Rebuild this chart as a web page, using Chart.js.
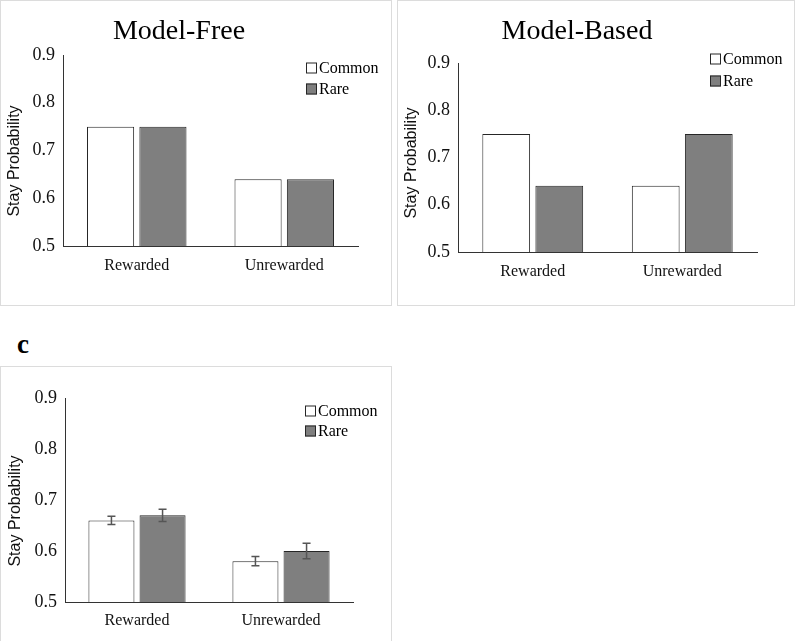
<!DOCTYPE html>
<html>
<head>
<meta charset="utf-8">
<script src="https://cdn.jsdelivr.net/npm/chart.js@4/dist/chart.umd.min.js"></script>
<style>
  body { margin: 0; background: #fff; width: 800px; height: 641px; position: relative; overflow: hidden; }
  .panel { position: absolute; box-sizing: border-box; border: 1.5px solid #dcdcdc; }
  canvas { position: absolute; }
  .tag { position: absolute; left: 17px; top: 329px; font: bold 27px "Liberation Serif", serif; color: #000; }
</style>
</head>
<body>
<div class="panel" style="left:0;top:0;width:392px;height:306px"></div>
<div class="panel" style="left:397px;top:0;width:398px;height:306px"></div>
<div class="panel" style="left:0;top:366px;width:392px;height:290px"></div>
<div class="tag">c</div>
<canvas id="chart-mf" style="left:0;top:0"></canvas>
<canvas id="chart-mb" style="left:397px;top:0"></canvas>
<canvas id="chart-obs" style="left:0;top:366px"></canvas>
<script>
// data
var categories = ["Rewarded", "Unrewarded"];
var seriesNames = ["Common", "Rare"];
var yTicks = [0.5, 0.6, 0.7, 0.8, 0.9];
var yLabel = "Stay Probability";

var mfCommon = [0.75, 0.64];
var mfRare = [0.75, 0.64];

var mbCommon = [0.75, 0.64];
var mbRare = [0.64, 0.75];

var obsCommon = [0.66, 0.58];
var obsRare = [0.67, 0.60];
var obsCommonErr = [0.008, 0.009];
var obsRareErr = [0.012, 0.015];

var fills = ["#ffffff", "#7f7f7f"];
var edge = "#262626";

// legend drawn as a small stacked box list at a given spot
var boxLegend = {
    id: "boxLegend",
    afterDraw: function (chart, args, opts) {
        var ctx = chart.ctx;
        ctx.save();
        ctx.font = "16px 'Liberation Serif'";
        ctx.textBaseline = "middle";
        chart.data.datasets.forEach(function (ds, i) {
            var y = opts.y + i * opts.gap;
            ctx.fillStyle = ds.backgroundColor;
            ctx.fillRect(opts.x, y - 5.5, 11, 11);
            ctx.strokeStyle = edge;
            ctx.lineWidth = 1;
            ctx.strokeRect(opts.x + 0.5, y - 5, 10, 10);
            ctx.fillStyle = "#000";
            ctx.fillText(ds.label, opts.x + 13, y + 1);
        });
        // rotated y axis label, sits a bit below the plot middle like the original
        ctx.translate(opts.yTitleX, opts.yTitleY);
        ctx.rotate(-Math.PI / 2);
        ctx.font = "16px 'Liberation Sans'";
        ctx.textAlign = "center";
        ctx.textBaseline = "middle";
        ctx.fillStyle = "#111";
        ctx.fillText(yLabel, 0, 0);
        ctx.restore();
    }
};

// error bars read from dataset.errors
var errorBars = {
    id: "errorBars",
    afterDatasetsDraw: function (chart) {
        var ctx = chart.ctx;
        var yScale = chart.scales.y;
        ctx.save();
        ctx.strokeStyle = "#555";
        ctx.lineWidth = 1.5;
        chart.data.datasets.forEach(function (ds, i) {
            if (!ds.errors) return;
            chart.getDatasetMeta(i).data.forEach(function (bar, j) {
                var v = ds.data[j], e = ds.errors[j];
                var top = yScale.getPixelForValue(v + e);
                var bot = yScale.getPixelForValue(v - e);
                ctx.beginPath();
                ctx.moveTo(bar.x, top); ctx.lineTo(bar.x, bot);
                ctx.moveTo(bar.x - 4, top); ctx.lineTo(bar.x + 4, top);
                ctx.moveTo(bar.x - 4, bot); ctx.lineTo(bar.x + 4, bot);
                ctx.stroke();
            });
        });
        ctx.restore();
    }
};

function makeChart(id, p) {
    var canvas = document.getElementById(id);
    canvas.width = p.w;
    canvas.height = p.h;
    var datasets = [p.common, p.rare].map(function (vals, i) {
        return {
            label: seriesNames[i],
            data: vals,
            errors: p.errs ? p.errs[i] : null,
            backgroundColor: fills[i],
            borderColor: edge,
            borderWidth: 1,
            categoryPercentage: 0.71,
            barPercentage: 0.9
        };
    });
    return new Chart(canvas.getContext("2d"), {
        type: "bar",
        data: { labels: categories, datasets: datasets },
        plugins: [boxLegend, errorBars],
        options: {
            responsive: false,
            animation: false,
            layout: { padding: { left: 0, right: p.w - p.right, top: p.title ? 0 : p.top, bottom: 0 } },
            plugins: {
                legend: { display: false },
                tooltip: { enabled: false },
                title: {
                    display: !!p.title,
                    text: p.title,
                    color: "#000",
                    font: { family: "Liberation Serif", size: 28, weight: "normal", lineHeight: 1.2 },
                    padding: { top: 15, bottom: p.top - 15 - 33.6 }
                },
                boxLegend: p.legend
            },
            scales: {
                x: {
                    grid: { display: false, drawTicks: false },
                    border: { display: true, color: "#333", width: 1 },
                    ticks: {
                        color: "#111",
                        padding: p.xPad,
                        font: { family: "Liberation Serif", size: 16 }
                    },
                    afterFit: function (s) { s.height = p.h - p.bottom; }
                },
                y: {
                    min: yTicks[0],
                    max: yTicks[yTicks.length - 1],
                    afterBuildTicks: function (s) { s.ticks = yTicks.map(function (v) { return { value: v }; }); },
                    grid: { display: false, drawTicks: false },
                    border: { display: true, color: "#333", width: 1 },
                    ticks: {
                        color: "#111",
                        padding: 8,
                        font: { family: "Liberation Serif", size: 18 },
                        callback: function (v) { return v.toFixed(1); }
                    },
                    afterFit: function (s) { s.width = p.left; }
                }
            }
        }
    });
}

makeChart("chart-mf", {
    w: 392, h: 306, left: 63, right: 358, top: 55, bottom: 246,
    title: "Model-Free", common: mfCommon, rare: mfRare,
    xPad: 10,
    legend: { x: 306, y: 68, gap: 21, yTitleX: 15, yTitleY: 161 }
});

makeChart("chart-mb", {
    w: 398, h: 306, left: 61, right: 360, top: 63, bottom: 252,
    title: "Model-Based", common: mbCommon, rare: mbRare,
    xPad: 10,
    legend: { x: 313, y: 59, gap: 22, yTitleX: 15, yTitleY: 163 }
});

makeChart("chart-obs", {
    w: 392, h: 275, left: 65, right: 353, top: 32, bottom: 236,
    title: "", common: obsCommon, rare: obsRare,
    errs: [obsCommonErr, obsRareErr],
    xPad: 9,
    legend: { x: 305, y: 45, gap: 20, yTitleX: 16, yTitleY: 145 }
});
</script>
</body>
</html>
